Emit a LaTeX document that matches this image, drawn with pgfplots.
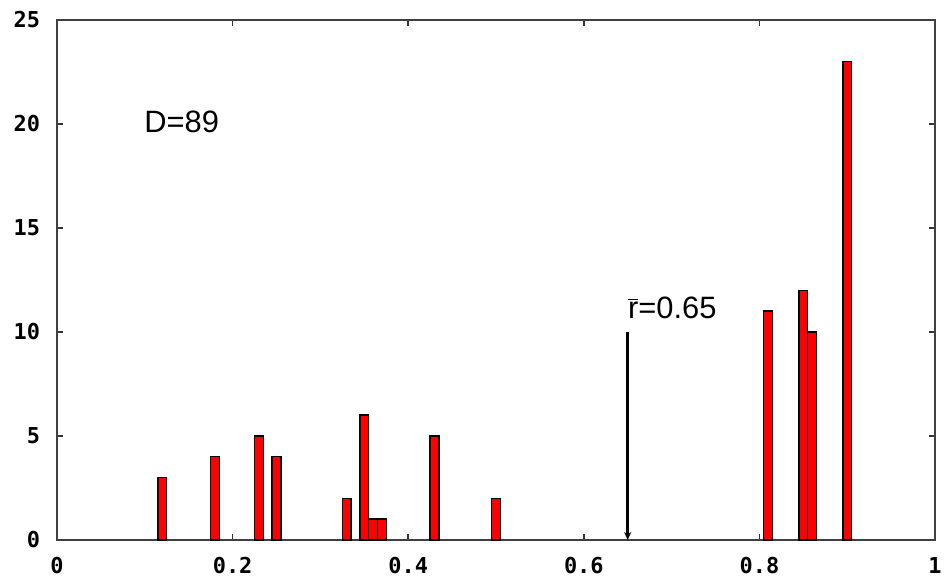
\documentclass[border=0pt]{standalone}
\usepackage{pgfplots}
\pgfplotsset{compat=1.18}
\usepackage{fontspec}
\setmainfont{Liberation Sans}
\newfontfamily\tickfont{DejaVu Sans Mono}
\usetikzlibrary{arrows.meta}

\begin{document}
\begin{tikzpicture}
\begin{axis}[
    name=ax,
    scale only axis,
    width=439bp, height=260bp,
    xmin=0, xmax=1,
    ymin=0, ymax=25,
    xtick={0,0.2,0.4,0.6,0.8,1},
    xticklabels={0,0.2,0.4,0.6,0.8,1},
    ytick={0,5,10,15,20,25},
    /pgf/number format/assume math mode=true,
    tick align=inside,
    major tick length=3bp,
    axis line style={black!75, line width=0.9bp},
    tick style={black!80, line width=0.8bp},
    ticklabel style={font=\tickfont\bfseries\fontsize{11}{11}\selectfont},
    xticklabel style={yshift=-5bp},
    yticklabel style={xshift=-5bp},
    clip=false,
]
% histogram of r, bins of width 0.01
\addplot[ybar, bar width=0.01, bar shift=0pt, fill=red, draw=black, line width=0.7bp]
    coordinates {
    (0.12,3)(0.18,4)(0.23,5)(0.25,4)(0.33,2)(0.35,6)(0.36,1)(0.37,1)
    (0.43,5)(0.50,2)(0.81,11)(0.85,12)(0.86,10)(0.90,23)
    };

% mean marker
\addplot[black, line width=1.5bp, -{Stealth[length=4bp,width=3.5bp]}, no marks]
    coordinates {(0.65,10) (0.65,0)};

\node[anchor=base west, inner sep=0pt, font=\fontsize{15.5}{16}\selectfont]
    at (axis cs:0.099,19.6) {D=89};
\node[anchor=base west, inner sep=0pt, font=\fontsize{15.5}{16}\selectfont]
    at (axis cs:0.65,10.65) {$\overline{\hbox{r}}$=0.65};
\end{axis}
\pgfresetboundingbox
\path[use as bounding box] ([xshift=-28.5bp,yshift=-18.5bp]ax.south west)
    rectangle ([xshift=4.5bp,yshift=10bp]ax.north east);
\end{tikzpicture}
\end{document}
